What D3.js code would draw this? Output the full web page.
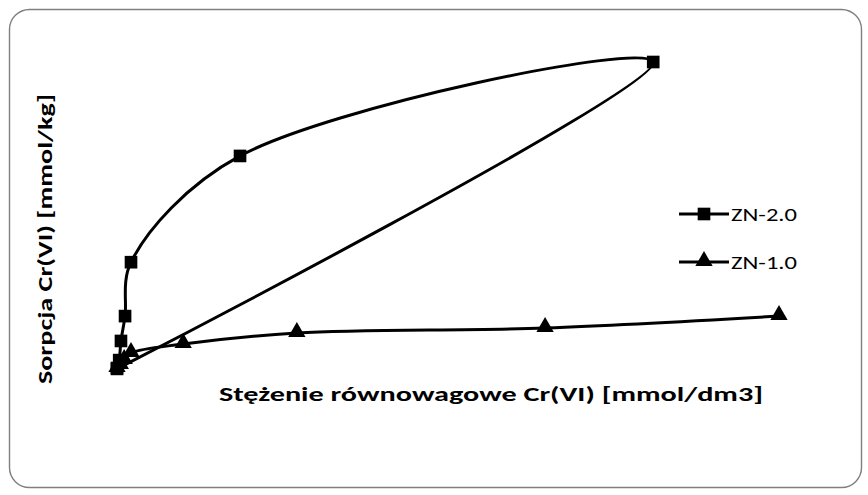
<!DOCTYPE html>
<html>
<head>
<meta charset="utf-8">
<script src="https://cdn.jsdelivr.net/npm/d3@7"></script>
<style>
  body { margin: 0; background: #fff; }
  svg { display: block; }
</style>
</head>
<body>
<svg></svg>
<script>
// series data (x: mmol/dm3, y: mmol/kg)
const zn20X = [0.00, 0.02, 0.036, 0.073, 0.127, 1.115, 4.86, 0.00];
const zn20Y = [0.9, 4.5, 13.2, 24.5, 49.0, 97.3, 140.0, 0.5];
const zn10X = [0.00, 0.03, 0.065, 0.127, 0.60, 1.63, 3.88, 6.00];
const zn10Y = [0.9, 2.3, 4.5, 7.7, 11.8, 16.8, 19.1, 24.5];
const seriesNames = ["ZN-2.0", "ZN-1.0"];

const width = 868, height = 495;
const font = "Carlito, Lato, 'Open Sans', sans-serif";

const svg = d3.select("svg")
    .attr("width", width)
    .attr("height", height);

// frame
svg.append("rect")
    .attr("x", 9.5).attr("y", 9.5)
    .attr("width", 852).attr("height", 478)
    .attr("rx", 20).attr("ry", 20)
    .attr("fill", "#fff")
    .attr("stroke", "#7f7f7f")
    .attr("stroke-width", 1.4);

const xScale = d3.scaleLinear().domain([0, 6]).range([117, 779]);
const yScale = d3.scaleLinear().domain([0, 140]).range([370, 62]);

const line = d3.line()
    .x(d => xScale(d[0]))
    .y(d => yScale(d[1]))
    .curve(d3.curveCatmullRom.alpha(0.5));

const zn20 = zn20X.map((x, i) => [x, zn20Y[i]]);
const zn10 = zn10X.map((x, i) => [x, zn10Y[i]]);

//lines
[zn20, zn10].forEach(data => {
    svg.append("path")
        .datum(data)
        .attr("fill", "none")
        .attr("stroke", "#000")
        .attr("stroke-width", 3)
        .attr("d", line);
});

const square = d3.symbol().type(d3.symbolSquare).size(160);
const triangle = d3.symbol().type(d3.symbolTriangle).size(130);

//markers
svg.selectAll(".sq")
    .data(zn20)
    .enter()
    .append("path")
    .attr("class", "sq")
    .attr("d", square)
    .attr("transform", d => `translate(${xScale(d[0])},${yScale(d[1])})`)
    .attr("fill", "#000");

svg.selectAll(".tri")
    .data(zn10)
    .enter()
    .append("path")
    .attr("class", "tri")
    .attr("d", triangle)
    .attr("transform", d => `translate(${xScale(d[0])},${yScale(d[1]) - 1})`)
    .attr("fill", "#000");

//legend
const legend = svg.append("g").attr("font-family", font);
[square, triangle].forEach((sym, i) => {
    const ly = 214 + i * 48;
    legend.append("line")
        .attr("x1", 679).attr("x2", 729)
        .attr("y1", ly).attr("y2", ly)
        .attr("stroke", "#000").attr("stroke-width", 3);
    legend.append("path")
        .attr("d", sym)
        .attr("transform", `translate(704,${ly - (i ? 1 : 0)})`)
        .attr("fill", "#000");
    legend.append("text")
        .attr("x", 731).attr("y", ly + 7)
        .attr("font-size", 19)
        .attr("textLength", 66)
        .attr("lengthAdjust", "spacingAndGlyphs")
        .attr("fill", "#000")
        .text(seriesNames[i]);
});

//axis labels
svg.append("text")
    .attr("x", 491)
    .attr("y", 401)
    .attr("text-anchor", "middle")
    .attr("font-family", font)
    .attr("font-weight", "bold")
    .attr("font-size", 21)
    .attr("textLength", 544)
    .attr("lengthAdjust", "spacingAndGlyphs")
    .text("Stężenie równowagowe Cr(VI) [mmol/dm3]");

svg.append("text")
    .attr("transform", "translate(52,239) rotate(-90)")
    .attr("text-anchor", "middle")
    .attr("font-family", font)
    .attr("font-weight", "bold")
    .attr("font-size", 21)
    .attr("textLength", 290)
    .attr("lengthAdjust", "spacingAndGlyphs")
    .text("Sorpcja Cr(VI) [mmol/kg]");
</script>
</body>
</html>
